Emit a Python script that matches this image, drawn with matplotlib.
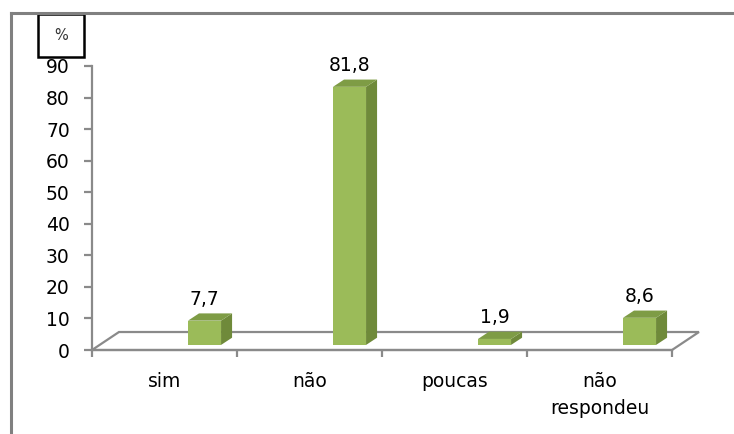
import matplotlib.pyplot as plt
from matplotlib.patches import Polygon, Rectangle
from matplotlib.lines import Line2D

categories = ['sim', 'não', 'poucas', 'não\nrespondeu']
values = [7.7, 81.8, 1.9, 8.6]
value_labels = ['7,7', '81,8', '1,9', '8,6']
yticks = [0, 10, 20, 30, 40, 50, 60, 70, 80, 90]

W, H = 734, 434
fig = plt.figure(figsize=(W / 100, H / 100), dpi=100)
fig.patch.set_facecolor('white')

# axes placed in pixel terms: x from 92 to 672, y=0 at 350, y=90 at 66
ax = fig.add_axes([92 / W, 1 - 350 / H, (672 - 92) / W, (350 - 66) / H])
ax.set_xlim(-0.5, 3.5)
ax.set_ylim(0, 90)
ax.patch.set_alpha(0)

gray = '#8a8a8a'
front = '#9bbb59'
side = '#6f8a3a'
top = '#7e9c45'

for s in ['top', 'right']:
    ax.spines[s].set_visible(False)
ax.spines['left'].set_color(gray)
ax.spines['left'].set_linewidth(1.6)
ax.spines['bottom'].set_color(gray)
ax.spines['bottom'].set_linewidth(1.6)

ax.set_yticks(yticks)
ax.set_yticklabels([str(t) for t in yticks])
ax.tick_params(axis='y', length=6, width=1.6, color=gray, pad=10, labelsize=13.5)

# category boundaries as major ticks, names on minor ticks
ax.set_xticks([-0.5, 0.5, 1.5, 2.5, 3.5])
ax.set_xticklabels([])
ax.tick_params(axis='x', which='major', length=5, width=1.6, color=gray)
ax.set_xticks([0, 1, 2, 3], minor=True)
ax.set_xticklabels(categories, minor=True, fontsize=13.5, linespacing=1.5)
ax.tick_params(axis='x', which='minor', length=0, pad=16)

# floor of the 3d plot
ddx, ddy = 0.186, 5.7
floor = [(-0.5, 0), (3.5, 0), (3.5 + ddx, ddy), (-0.5 + ddx, ddy)]
ax.add_patch(Polygon(floor, closed=True, fill=False, edgecolor=gray, lw=1.6, clip_on=False))

# 3d bars
off, bw, base = 0.276, 0.228, 1.6
sdx, sdy = 0.076, 2.3
for i, (v, lab) in enumerate(zip(values, value_labels)):
    x0 = i + off - bw / 2
    x1 = x0 + bw
    y1 = base + v
    ax.add_patch(Polygon([(x1, base), (x1 + sdx, base + sdy), (x1 + sdx, y1 + sdy), (x1, y1)],
                         closed=True, facecolor=side, edgecolor='none', clip_on=False, zorder=3))
    ax.add_patch(Polygon([(x0, y1), (x1, y1), (x1 + sdx, y1 + sdy), (x0 + sdx, y1 + sdy)],
                         closed=True, facecolor=top, edgecolor='none', clip_on=False, zorder=3))
    ax.add_patch(Rectangle((x0, base), bw, v, facecolor=front, edgecolor='none',
                           clip_on=False, zorder=4))
    ax.annotate(lab, (i + off, y1 + sdy), xytext=(0, 6), textcoords='offset points',
                ha='center', va='baseline', fontsize=13.5)

# outer frame (gray), cut at right and bottom
fig.add_artist(Line2D([11 / W, 1], [1 - 13 / H, 1 - 13 / H], color='#808080', lw=2.2))
fig.add_artist(Line2D([11 / W, 11 / W], [0, 1 - 13 / H], color='#808080', lw=2.2))

# "%" box
fig.add_artist(Rectangle((38 / W, 1 - 57 / H), 46 / W, 43 / H, transform=fig.transFigure,
                         fill=False, edgecolor='black', lw=1.8))
fig.text(61 / W, 1 - 35 / H, '%', ha='center', va='center', fontsize=10.5, color='#333333')

fig.savefig('out.png', dpi=100)
